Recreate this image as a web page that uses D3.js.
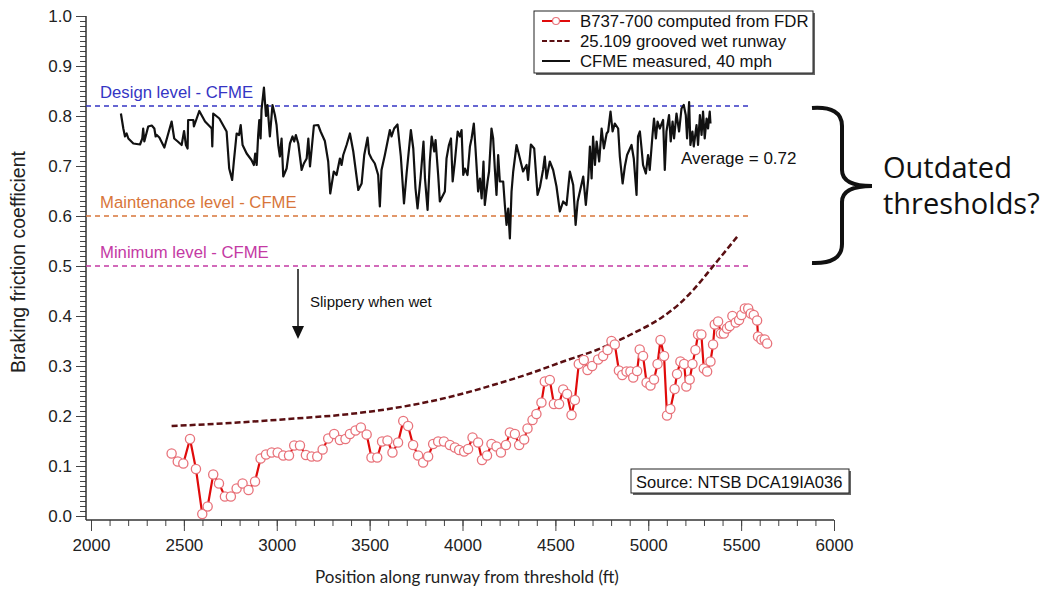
<!DOCTYPE html>
<html>
<head>
<meta charset="utf-8">
<script src="https://cdnjs.cloudflare.com/ajax/libs/d3/7.8.5/d3.min.js"></script>
<style>
  body { margin: 0; background: #fff; }
  text { font-family: "Liberation Sans", Arial, sans-serif; }
</style>
</head>
<body>
<svg width="1047" height="590"></svg>
<script>

// CFME measured friction, 40 mph (position ft, coefficient)
var cfmePos = [2161,2174,2183,2192,2201,2228,2264,2276,2281,2287,2308,2327,2341,2348,2354,2368,2395,2434,2448,2467,
  2488,2501,2511,2520,2523,2551,2554,2583,2614,2640,2650,2653,2658,2691,2730,2744,2760,2769,2784,2797,
  2806,2816,2838,2864,2877,2884,2892,2900,2906,2913,2918,2931,2942,2950,2963,2977,2990,2999,3008,3017,
  3026,3035,3053,3071,3085,3094,3103,3116,3134,3146,3161,3170,3179,3200,3223,3236,3259,3277,3288,3307,
  3322,3340,3349,3358,3376,3394,3412,3439,3457,3471,3489,3497,3510,3528,3546,3555,3564,3582,3609,3618,
  3632,3650,3668,3685,3699,3722,3735,3747,3758,3774,3790,3798,3812,3824,3834,3848,3855,3869,3878,3905,
  3914,3927,3938,3947,3959,3974,3986,3995,4004,4013,4027,4040,4049,4061,4070,4084,4094,4103,4113,4120,
  4135,4143,4156,4165,4174,4183,4192,4201,4219,4228,4237,4246,4255,4264,4273,4291,4309,4326,4345,4353,
  4368,4386,4404,4417,4434,4443,4452,4470,4488,4506,4524,4542,4560,4578,4596,4609,4620,4632,4650,4664,
  4677,4686,4695,4703,4713,4722,4736,4749,4761,4776,4784,4797,4808,4820,4838,4847,4862,4874,4886,4910,
  4922,4937,4945,4955,4964,4972,4987,4999,5008,5023,5031,5041,5050,5062,5080,5089,5098,5112,5121,5131,
  5139,5152,5166,5179,5191,5202,5209,5220,5227,5238,5245,5260,5268,5278,5287,5295,5304,5314,5322,5331,5335];
var cfmeVal = [.805,.775,.759,.765,.755,.745,.743,.755,.775,.749,.779,.781,.775,.759,.762,.757,.737,.789,.755,.749,
  .742,.770,.742,.735,.792,.792,.779,.810,.789,.779,.775,.739,.805,.795,.769,.695,.672,.709,.765,.762,
  .782,.742,.725,.712,.702,.725,.702,.762,.792,.755,.812,.857,.800,.822,.759,.822,.802,.782,.742,.719,
  .755,.679,.695,.745,.759,.749,.762,.745,.692,.705,.715,.755,.699,.781,.782,.769,.750,.709,.645,.689,
  .682,.715,.702,.722,.742,.765,.729,.652,.665,.722,.757,.725,.715,.705,.682,.619,.692,.722,.772,.759,
  .775,.783,.719,.625,.685,.772,.735,.655,.615,.675,.749,.675,.612,.709,.759,.729,.752,.682,.629,.649,
  .715,.742,.755,.669,.709,.769,.759,.772,.682,.695,.682,.739,.755,.785,.735,.649,.675,.635,.709,.622,
  .669,.689,.775,.755,.695,.642,.722,.669,.669,.622,.582,.615,.555,.649,.689,.742,.715,.689,.702,.672,
  .743,.735,.642,.658,.693,.719,.675,.709,.692,.659,.609,.629,.622,.689,.662,.582,.629,.649,.679,.622,
  .675,.739,.675,.759,.702,.749,.709,.775,.735,.765,.769,.809,.769,.785,.775,.719,.665,.699,.722,.742,
  .715,.642,.759,.769,.735,.702,.685,.722,.692,.762,.795,.755,.789,.775,.792,.692,.769,.802,.749,.789,
  .755,.805,.769,.815,.822,.802,.755,.828,.742,.769,.739,.782,.742,.802,.762,.809,.755,.795,.775,.809,.785];

// B737-700 braking friction computed from FDR
var fdrPos = [2434,2467,2497,2533,2565,2599,2628,2658,2689,2721,2753,2784,2816,2848,2883,2913,2942,2973,3005,3035,
  3066,3094,3125,3157,3188,3218,3247,3277,3309,3340,3370,3394,3424,3453,3484,3510,3541,3567,3596,3623,
  3653,3681,3707,3734,3761,3788,3815,3842,3869,3900,3932,3959,3982,4009,4030,4054,4084,4105,4132,4156,
  4183,4207,4234,4255,4282,4305,4332,4350,4377,4398,4425,4443,4470,4492,4520,4542,4563,4587,4605,4626,
  4653,4673,4698,4730,4757,4781,4802,4820,4842,4860,4883,4904,4919,4940,4954,4972,4991,5012,5031,5050,
  5066,5085,5101,5119,5142,5155,5173,5193,5205,5223,5238,5254,5268,5286,5299,5317,5335,5349,5358,5376,
  5391,5407,5424,5439,5453,5471,5489,5502,5520,5538,5552,5568,5586,5591,5609,5627,5640];
var fdrVal = [.125,.109,.105,.154,.094,.004,.019,.083,.065,.039,.039,.055,.065,.052,.069,.115,.123,.127,.127,.121,
  .121,.141,.141,.122,.119,.119,.133,.155,.164,.152,.154,.164,.171,.177,.163,.117,.117,.149,.151,.127,
  .147,.190,.180,.142,.121,.107,.119,.144,.149,.149,.142,.137,.132,.129,.134,.157,.147,.112,.121,.144,
  .139,.127,.142,.167,.164,.142,.153,.175,.192,.204,.227,.269,.272,.224,.224,.253,.244,.202,.232,.304,
  .312,.292,.300,.313,.320,.332,.350,.343,.291,.282,.289,.289,.277,.290,.333,.320,.267,.261,.273,.304,
  .352,.320,.201,.214,.254,.284,.309,.304,.259,.273,.304,.332,.363,.363,.295,.289,.309,.343,.383,.389,
  .365,.365,.375,.380,.400,.387,.392,.402,.415,.415,.405,.402,.391,.359,.353,.353,.345];

// 25.109 grooved wet runway
var wetPos = [2434,2750,3100,3394,3824,4004,4183,4363,4542,4722,4901,5080,5170,5242,5350,5484];
var wetVal = [.180,.186,.195,.204,.229,.245,.264,.285,.309,.332,.362,.399,.425,.452,.500,.561];

// CFME threshold levels
var levelNames = ["Design level - CFME", "Maintenance level - CFME", "Minimum level - CFME"];
var levelValues = [0.82, 0.60, 0.50];
var levelColors = ["#3535c4", "#d8763a", "#c43aa4"];
var levelEnd = 5550;

var legendLabels = ["B737-700 computed from FDR", "25.109 grooved wet runway", "CFME measured, 40 mph"];

var svg = d3.select("svg");

var x = d3.scaleLinear().domain([2000, 6000]).range([91, 834]);
var y = d3.scaleLinear().domain([0, 1]).range([516, 16]);

// axes
var xAxisG = svg.append("g").attr("transform", "translate(0,520)");
xAxisG.append("g")
    .call(d3.axisBottom(x).tickValues(d3.range(2000, 6001, 100)).tickSize(6).tickFormat(""))
    .call(function(g) { g.select(".domain").remove(); });
xAxisG.append("g")
    .call(d3.axisBottom(x).tickValues(d3.range(2000, 6001, 500)).tickSize(11).tickPadding(8).tickFormat(d3.format("d")))
    .call(function(g) { g.select(".domain").remove(); });
xAxisG.append("line").attr("x1", 86).attr("x2", x(6000)).attr("stroke", "#333").attr("stroke-width", 1.5);

var yAxisG = svg.append("g").attr("transform", "translate(86,0)");
yAxisG.append("g")
    .call(d3.axisLeft(y).tickValues(d3.range(0, 101, 1).map(function(d) { return d / 100; })).tickSize(6).tickFormat(""))
    .call(function(g) { g.select(".domain").remove(); });
yAxisG.append("g")
    .call(d3.axisLeft(y).tickValues(d3.range(0, 11).map(function(d) { return d / 10; })).tickSize(10).tickPadding(4).tickFormat(d3.format(".1f")))
    .call(function(g) { g.select(".domain").remove(); });
yAxisG.append("line").attr("y1", y(1)).attr("y2", 520).attr("stroke", "#333").attr("stroke-width", 1.5);

svg.selectAll(".tick line").attr("stroke", "#444");
svg.selectAll(".tick text").attr("font-size", 17).attr("fill", "#222")
    .style("font-family", "'Liberation Sans', Arial, sans-serif");

svg.append("text")
    .attr("transform", "translate(25,262) rotate(-90)")
    .attr("text-anchor", "middle")
    .attr("font-size", 19.5).attr("fill", "#222")
    .text("Braking friction coefficient");

svg.append("text")
    .attr("x", 467).attr("y", 583)
    .attr("text-anchor", "middle")
    .style("font-family", "Lato, sans-serif")
    .attr("font-size", 17).attr("fill", "#222")
    .text("Position along runway from threshold (ft)");

// threshold lines
levelValues.forEach(function(v, i) {
  svg.append("line")
      .attr("x1", 86).attr("x2", x(levelEnd))
      .attr("y1", y(v)).attr("y2", y(v))
      .attr("stroke", levelColors[i]).attr("stroke-width", 1.5)
      .attr("stroke-dasharray", "5,4");
  svg.append("text")
      .attr("x", 100).attr("y", y(v) - 8)
      .attr("font-size", 16.7).attr("fill", levelColors[i])
      .text(levelNames[i]);
});

// CFME measured
var cfme = cfmePos.map(function(p, i) { return [p, cfmeVal[i]]; });
svg.append("path")
    .datum(cfme)
    .attr("fill", "none").attr("stroke", "#111").attr("stroke-width", 2.2)
    .attr("stroke-linejoin", "round")
    .attr("d", d3.line().x(function(d) { return x(d[0]); }).y(function(d) { return y(d[1]); }));

// 25.109 curve
var wet = wetPos.map(function(p, i) { return [p, wetVal[i]]; });
svg.append("path")
    .datum(wet)
    .attr("fill", "none").attr("stroke", "#5a0f12").attr("stroke-width", 2.5)
    .attr("stroke-dasharray", "6,3")
    .attr("d", d3.line().curve(d3.curveMonotoneX).x(function(d) { return x(d[0]); }).y(function(d) { return y(d[1]); }));

// FDR computed
var fdr = fdrPos.map(function(p, i) { return [p, fdrVal[i]]; });
svg.append("path")
    .datum(fdr)
    .attr("fill", "none").attr("stroke", "#e00b0b").attr("stroke-width", 2.2)
    .attr("d", d3.line().x(function(d) { return x(d[0]); }).y(function(d) { return y(d[1]); }));
svg.append("g").selectAll("circle")
    .data(fdr)
    .enter().append("circle")
    .attr("cx", function(d) { return x(d[0]); })
    .attr("cy", function(d) { return y(d[1]); })
    .attr("r", 4.6)
    .attr("fill", "#fff").attr("stroke", "#e8737b").attr("stroke-width", 1.3);

// annotations
svg.append("text").attr("x", 681).attr("y", 164).attr("font-size", 17).attr("fill", "#111").text("Average = 0.72");

svg.append("line").attr("x1", 298).attr("x2", 298).attr("y1", 269).attr("y2", 328)
    .attr("stroke", "#111").attr("stroke-width", 1.5);
svg.append("path").attr("d", "M292,326 L304,326 L298,339 Z").attr("fill", "#111");
svg.append("text").attr("x", 310).attr("y", 307).attr("font-size", 15).attr("fill", "#111").text("Slippery when wet");

// legend
var lg = svg.append("g").attr("class", "legend");
lg.append("rect").attr("x", 536).attr("y", 13).attr("width", 279).attr("height", 62).attr("fill", "#666");
lg.append("rect").attr("x", 534).attr("y", 11).attr("width", 279).attr("height", 62)
    .attr("fill", "#fff").attr("stroke", "#222").attr("stroke-width", 1);
legendLabels.forEach(function(t, i) {
  var ly = 21 + i * 20;
  var ln = lg.append("line").attr("x1", 542).attr("x2", 570).attr("y1", ly).attr("y2", ly).attr("stroke-width", 2);
  if (i == 0) {
    ln.attr("stroke", "#e00b0b");
    lg.append("circle").attr("cx", 556).attr("cy", ly).attr("r", 3.5)
        .attr("fill", "#fff").attr("stroke", "#e8737b").attr("stroke-width", 1.2);
  } else if (i == 1) {
    ln.attr("stroke", "#5a0f12").attr("stroke-dasharray", "5,2.5");
  } else {
    ln.attr("stroke", "#111");
  }
  lg.append("text").attr("x", 580).attr("y", ly + 6).attr("font-size", 16.8).attr("fill", "#111").text(t);
});

// source box
svg.append("rect").attr("x", 633).attr("y", 471).attr("width", 218).attr("height", 24).attr("fill", "#666");
svg.append("rect").attr("x", 631).attr("y", 469).attr("width", 218).attr("height", 24)
    .attr("fill", "#fff").attr("stroke", "#222").attr("stroke-width", 1);
svg.append("text").attr("x", 636).attr("y", 487.5).attr("font-size", 16.5).attr("fill", "#111").text("Source: NTSB DCA19IA036");

// brace + question
svg.append("path")
    .attr("d", "M812,108 Q842,106 842,126 L842,170 Q842,186 872,186 Q842,186 842,202 L842,244 Q842,264 812,263")
    .attr("fill", "none").attr("stroke", "#111").attr("stroke-width", 4);
svg.append("text").attr("x", 883).attr("y", 178)
    .style("font-family", "'Open Sans', sans-serif").attr("font-size", 29).attr("fill", "#111").text("Outdated");
svg.append("text").attr("x", 883).attr("y", 214)
    .style("font-family", "'Open Sans', sans-serif").attr("font-size", 29).attr("fill", "#111").text("thresholds?");

</script>
</body>
</html>
